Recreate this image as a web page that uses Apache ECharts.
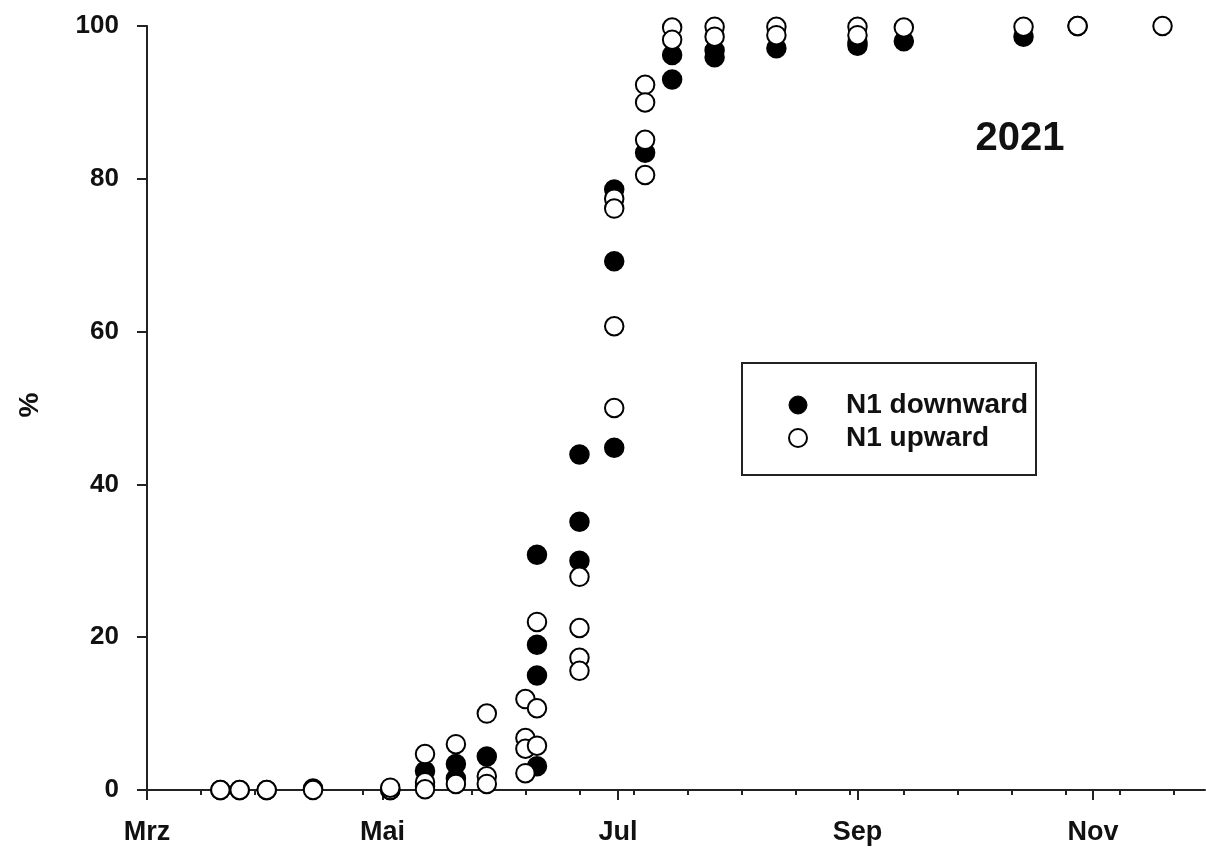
<!DOCTYPE html>
<html>
<head>
<meta charset="utf-8">
<script src="https://cdn.jsdelivr.net/npm/echarts@6/dist/echarts.min.js"></script>
<style>
  html, body { margin: 0; padding: 0; background: #fff; }
  #chart { width: 1206px; height: 855px; }
</style>
</head>
<body>
<div id="chart"></div>
<script>
// Season start used as day 0 of the x axis
const seasonStart = '2021-03-01';
const seasonEnd = '2021-11-30';

// Month tick labels and their dates
const monthLabels = ['Mrz', 'Mai', 'Jul', 'Sep', 'Nov'];
const monthDates = ['2021-03-01', '2021-05-01', '2021-07-01', '2021-09-01', '2021-11-01'];

// Y axis
const yMin = 0, yMax = 100, yStep = 20;

// N1 downward (filled markers)
const downDates = [
  '2021-03-20', '2021-03-25', '2021-04-01', '2021-04-13', '2021-05-03',
  '2021-05-12', '2021-05-12',
  '2021-05-20', '2021-05-20',
  '2021-05-28',
  '2021-06-10', '2021-06-10', '2021-06-10', '2021-06-10',
  '2021-06-21', '2021-06-21', '2021-06-21',
  '2021-06-30', '2021-06-30', '2021-06-30',
  '2021-07-08',
  '2021-07-15', '2021-07-15',
  '2021-07-26', '2021-07-26',
  '2021-08-11',
  '2021-09-01', '2021-09-01',
  '2021-09-13',
  '2021-10-14',
  '2021-10-28'
];
const downValues = [
  0, 0, 0, 0.2, 0,
  2.5, 0.5,
  3.4, 1.5,
  4.4,
  30.8, 19.0, 15.0, 3.1,
  43.9, 35.1, 30.0,
  78.6, 69.2, 44.8,
  83.4,
  96.2, 93.0,
  96.8, 95.9,
  97.1,
  97.4, 97.8,
  98.0,
  98.6,
  100
];

// N1 upward (open markers)
const upDates = [
  '2021-03-20', '2021-03-25', '2021-04-01', '2021-04-13', '2021-05-03', '2021-05-03',
  '2021-05-12', '2021-05-12', '2021-05-12',
  '2021-05-20', '2021-05-20',
  '2021-05-28', '2021-05-28', '2021-05-28',
  '2021-06-07', '2021-06-07', '2021-06-07', '2021-06-07',
  '2021-06-10', '2021-06-10', '2021-06-10',
  '2021-06-21', '2021-06-21', '2021-06-21', '2021-06-21',
  '2021-06-30', '2021-06-30', '2021-06-30', '2021-06-30',
  '2021-07-08', '2021-07-08', '2021-07-08', '2021-07-08',
  '2021-07-15', '2021-07-15',
  '2021-07-26', '2021-07-26',
  '2021-08-11', '2021-08-11',
  '2021-09-01', '2021-09-01',
  '2021-09-13',
  '2021-10-14',
  '2021-10-28',
  '2021-11-19'
];
const upValues = [
  0, 0, 0, 0, 0, 0.3,
  4.7, 1.0, 0.1,
  6.0, 0.8,
  10.0, 1.8, 0.8,
  11.9, 6.8, 5.4, 2.2,
  22.0, 10.7, 5.8,
  27.9, 21.2, 17.3, 15.6,
  77.4, 76.1, 60.7, 50.0,
  92.3, 90.0, 85.1, 80.5,
  99.8, 98.2,
  99.9, 98.6,
  99.9, 98.8,
  99.9, 98.8,
  99.8,
  99.9,
  100,
  100
];

const DAY = 86400000;
function dayOf(s) {
  const [y, m, d] = s.split('-').map(Number);
  const [y0, m0, d0] = seasonStart.split('-').map(Number);
  return Math.round((Date.UTC(y, m - 1, d) - Date.UTC(y0, m0 - 1, d0)) / DAY);
}

const xMax = dayOf(seasonEnd);
const majorTicks = monthDates.map(dayOf);
// Minor ticks every two weeks from the start of the season
const minorTicks = [];
for (let d = 0; d <= xMax; d += 14) minorTicks.push(d);

const downData = downDates.map((d, i) => [dayOf(d), downValues[i]]);
const upData = upDates.map((d, i) => [dayOf(d), upValues[i]]);

const FONT = '"Liberation Sans", Arial, Helvetica, sans-serif';
const AXIS_COLOR = '#222';
const TEXT_COLOR = '#111';

const chart = echarts.init(document.getElementById('chart'), null, { renderer: 'canvas' });

chart.setOption({
  animation: false,
  backgroundColor: '#fff',
  grid: { left: 147, top: 26, width: 1058, height: 764, containLabel: false },
  xAxis: [
    {
      type: 'value',
      min: 0,
      max: xMax,
      position: 'bottom',
      axisLine: { show: true, onZero: false, lineStyle: { color: AXIS_COLOR, width: 2 } },
      axisTick: { show: true, inside: false, length: 10, customValues: majorTicks,
                  lineStyle: { color: AXIS_COLOR, width: 2 } },
      axisLabel: {
        show: true,
        customValues: majorTicks,
        margin: 29,
        fontFamily: FONT, fontWeight: 'bold', fontSize: 27, color: TEXT_COLOR,
        formatter: (v) => monthLabels[majorTicks.indexOf(v)] || ''
      },
      splitLine: { show: false }
    },
    {
      type: 'value',
      min: 0,
      max: xMax,
      position: 'bottom',
      axisLine: { show: false },
      axisTick: { show: true, inside: false, length: 5, customValues: minorTicks,
                  lineStyle: { color: AXIS_COLOR, width: 2 } },
      axisLabel: { show: false },
      splitLine: { show: false }
    }
  ],
  yAxis: {
    type: 'value',
    min: yMin,
    max: yMax,
    interval: yStep,
    axisLine: { show: true, onZero: false, lineStyle: { color: AXIS_COLOR, width: 2 } },
    axisTick: { show: true, inside: false, length: 10, lineStyle: { color: AXIS_COLOR, width: 2 } },
    axisLabel: { margin: 28, fontFamily: FONT, fontWeight: 'bold', fontSize: 26, color: TEXT_COLOR },
    splitLine: { show: false }
  },
  legend: {
    orient: 'vertical',
    left: 788,
    top: 391,
    padding: 0,
    itemWidth: 18,
    itemHeight: 18,
    itemGap: 5,
    textStyle: { fontFamily: FONT, fontWeight: 'bold', fontSize: 28, color: TEXT_COLOR,
                 lineHeight: 28, padding: [0, 0, 0, 34] },
    data: [
      { name: 'N1 downward', icon: 'circle',
        itemStyle: { color: '#000', borderColor: '#000', borderWidth: 1 } },
      { name: 'N1 upward', icon: 'circle',
        itemStyle: { color: '#fff', borderColor: '#000', borderWidth: 2 } }
    ]
  },
  graphic: [
    {
      type: 'rect',
      shape: { x: 742, y: 363, width: 294, height: 112 },
      style: { fill: 'none', stroke: '#222', lineWidth: 2 },
      silent: true
    },
    {
      type: 'text',
      x: 1020, y: 139,
      style: { text: '2021', font: 'bold 40px ' + FONT, fill: TEXT_COLOR, align: 'center', verticalAlign: 'middle' },
      silent: true
    },
    {
      type: 'text',
      x: 30, y: 405,
      rotation: Math.PI / 2,
      style: { text: '%', font: 'bold 28px ' + FONT, fill: TEXT_COLOR, align: 'center', verticalAlign: 'middle' },
      silent: true
    }
  ],
  series: [
    {
      name: 'N1 downward',
      type: 'scatter',
      xAxisIndex: 0,
      symbol: 'circle',
      symbolSize: 18.5,
      itemStyle: { color: '#000', borderColor: '#000', borderWidth: 2, opacity: 1 },
      emphasis: { disabled: true },
      z: 2,
      data: downData
    },
    {
      name: 'N1 upward',
      type: 'scatter',
      xAxisIndex: 0,
      symbol: 'circle',
      symbolSize: 18.5,
      itemStyle: { color: '#fff', borderColor: '#000', borderWidth: 2, opacity: 1 },
      emphasis: { disabled: true },
      z: 3,
      data: upData
    }
  ]
});
</script>
</body>
</html>
